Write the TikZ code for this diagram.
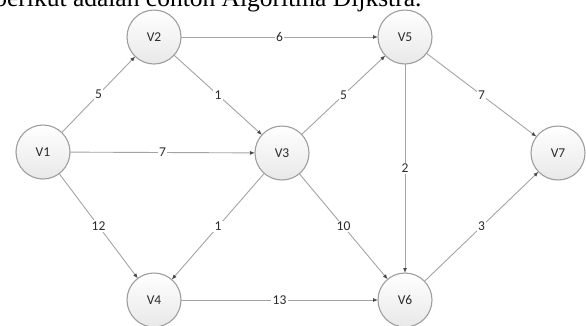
\documentclass[tikz,border=0pt]{standalone}
\usepackage{fontspec}
\setmainfont{Liberation Serif}
\newfontfamily\graphfont{Carlito}
\usetikzlibrary{arrows.meta}
\definecolor{edgegray}{HTML}{A3A3A3}
\definecolor{rimgray}{HTML}{9E9E9E}
\definecolor{tipgray}{HTML}{4A4A4A}
\definecolor{inkgray}{HTML}{2A2A2A}
\begin{document}
\begin{tikzpicture}[x=1pt,y=-1pt,
  vertex/.style={circle, minimum size=54pt, inner sep=0pt, outer sep=0pt,
    draw=rimgray, line width=1.1pt, top color=white, bottom color=black!9,
    font=\graphfont\fontsize{13.5}{16}\selectfont, text=inkgray},
  link/.style={draw=edgegray, line width=0.9pt,
    -{Latex[length=5pt,width=4pt,color=tipgray]}},
  weight/.style={fill=white, inner sep=1.5pt,
    font=\graphfont\fontsize{13.5}{16}\selectfont, text=inkgray}]

\useasboundingbox (0,0) rectangle (586,325);

% heading line, partly above the page edge
\begin{scope}
  \clip (0,0) rectangle (586,325);
  \node[anchor=base west, inner sep=0pt, font=\fontsize{25.5}{30}\selectfont]
    (caption) at (-5.8,6.5) {berikut adalah contoh Algoritma Dijkstra.};
\end{scope}

% vertices
\node[vertex] (v1) at (43,152) {V1};
\node[vertex] (v2) at (154,37) {V2};
\node[vertex] (v3) at (282,153) {V3};
\node[vertex] (v4) at (154,300) {V4};
\node[vertex] (v5) at (405,37) {V5};
\node[vertex] (v6) at (405,300) {V6};
\node[vertex] (v7) at (558,153) {V7};

% weighted directed edges
\draw[link] (v1) -- node[weight] {5} (v2);
\draw[link] (v1) -- node[weight] {7} (v3);
\draw[link] (v1) -- node[weight] {12} (v4);
\draw[link] (v2) -- node[weight] {1} (v3);
\draw[link] (v2) -- node[weight] {6} (v5);
\draw[link] (v3) -- node[weight] {5} (v5);
\draw[link] (v3) -- node[weight] {1} (v4);
\draw[link] (v3) -- node[weight] {10} (v6);
\draw[link] (v4) -- node[weight] {13} (v6);
\draw[link] (v5) -- node[weight] {7} (v7);
\draw[link] (v5) -- node[weight] {2} (v6);
\draw[link] (v6) -- node[weight] {3} (v7);
\end{tikzpicture}
\end{document}
